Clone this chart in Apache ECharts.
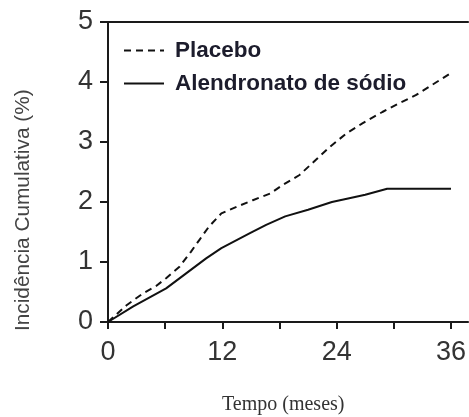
<!DOCTYPE html>
<html>
<head>
<meta charset="utf-8">
<script src="https://cdn.jsdelivr.net/npm/echarts@6/dist/echarts.min.js"></script>
<style>
html,body{margin:0;padding:0;background:#fff;}
#chart{width:469px;height:417px;}
</style>
</head>
<body>
<div id="chart"></div>
<script>
const seriesNames = ['Placebo', 'Alendronato de sódio'];
const placeboMonths = [0, 1.95, 3.7, 5.05, 6.1, 7.5, 8.7, 9.6, 10.6, 11.9, 13.5, 15.2, 17, 18.3, 20.1, 21.8, 23.3, 25, 26.7, 28.8, 30.5, 32.3, 34, 35.8];
const placeboValues = [0, 0.28, 0.48, 0.6, 0.73, 0.92, 1.17, 1.37, 1.59, 1.81, 1.92, 2.03, 2.14, 2.28, 2.45, 2.7, 2.92, 3.14, 3.31, 3.5, 3.64, 3.78, 3.95, 4.13];
const alendMonths = [0, 2.65, 6.1, 8.2, 10.3, 11.9, 14.9, 16.6, 18.6, 21, 23.5, 25.2, 27, 29.3, 36];
const alendValues = [0, 0.26, 0.56, 0.81, 1.06, 1.23, 1.48, 1.62, 1.76, 1.87, 2.0, 2.06, 2.12, 2.22, 2.22];
const xTickValues = [0, 6, 12, 18, 24, 30, 36];
const xLabelValues = [0, 12, 24, 36];
const yTickValues = [0, 1, 2, 3, 4, 5];
const xTitle = 'Tempo (meses)';
const yTitle = 'Incidência Cumulativa (%)';

const pair = (xs, ys) => xs.map((x, i) => [x, ys[i]]);
const chart = echarts.init(document.getElementById('chart'));
const axisColor = '#1a1a1a';
chart.setOption({
  animation: false,
  backgroundColor: '#fff',
  grid: { left: 108, top: 22, right: 0, bottom: 95 },
  legend: {
    orient: 'vertical',
    left: 123,
    top: 39,
    padding: 0,
    itemWidth: 40,
    itemHeight: 14,
    itemGap: 10,
    data: seriesNames,
    itemStyle: { opacity: 0 },
    textStyle: {
      fontFamily: 'Liberation Sans, Arial, sans-serif',
      fontSize: 22.5,
      fontWeight: 'bold',
      color: '#1c1c2c',
      lineHeight: 23,
      padding: [0, 0, 0, 6]
    }
  },
  xAxis: [{
    type: 'value',
    min: 0,
    max: 37.8,
    interval: 6,
    splitLine: { show: false },
    axisLine: { show: true, onZero: false, lineStyle: { color: axisColor, width: 2 } },
    axisTick: { show: true, length: 7, customValues: xTickValues, lineStyle: { color: axisColor, width: 2 } },
    axisLabel: {
      customValues: xLabelValues,
      margin: 17,
      fontFamily: 'Liberation Sans, Arial, sans-serif',
      fontSize: 27,
      color: '#333'
    }
  }, {
    type: 'value',
    position: 'top',
    min: 0,
    max: 37.8,
    splitLine: { show: false },
    axisLine: { show: true, onZero: false, lineStyle: { color: axisColor, width: 2 } },
    axisTick: { show: false },
    axisLabel: { show: false }
  }],
  yAxis: {
    type: 'value',
    min: 0,
    max: 5,
    interval: 1,
    splitLine: { show: false },
    axisLine: { show: true, onZero: false, lineStyle: { color: axisColor, width: 2 } },
    axisTick: { show: true, length: 8, customValues: yTickValues, lineStyle: { color: axisColor, width: 2 } },
    axisLabel: {
      margin: 15,
      fontFamily: 'Liberation Sans, Arial, sans-serif',
      fontSize: 27,
      color: '#333'
    }
  },
  graphic: [{
    type: 'text',
    left: 222,
    top: 395,
    style: {
      text: xTitle,
      fontFamily: 'Liberation Serif, Times New Roman, serif',
      fontSize: 20,
      fill: '#333'
    }
  }, {
    type: 'text',
    rotation: Math.PI / 2,
    x: 23,
    y: 331,
    style: {
      text: yTitle,
      fontFamily: 'Liberation Sans, Arial, sans-serif',
      fontSize: 20.8,
      fill: '#444',
      textVerticalAlign: 'middle',
      textAlign: 'left'
    }
  }],
  series: [{
    name: seriesNames[0],
    type: 'line',
    xAxisIndex: 0,
    data: pair(placeboMonths, placeboValues),
    symbol: 'none',
    lineStyle: { color: '#111', width: 2, type: [7, 5] },
    itemStyle: { color: '#111' }
  }, {
    name: seriesNames[1],
    type: 'line',
    xAxisIndex: 0,
    data: pair(alendMonths, alendValues),
    symbol: 'none',
    lineStyle: { color: '#111', width: 2, type: 'solid' },
    itemStyle: { color: '#111' }
  }]
});
</script>
</body>
</html>
